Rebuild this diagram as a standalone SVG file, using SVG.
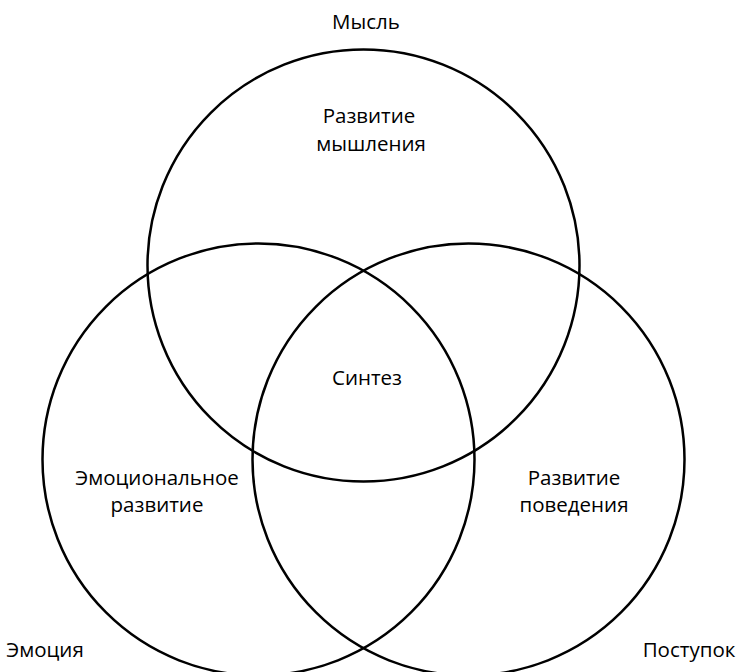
<svg xmlns="http://www.w3.org/2000/svg" width="740" height="672" viewBox="0 0 740 672">
<style>
.c{fill:none;stroke:#000;stroke-width:2.5}
.t{font-family:"Open Sans","Noto Sans","DejaVu Sans",sans-serif;font-size:20.5px;fill:#000;text-anchor:middle}
</style>
<rect width="740" height="672" fill="#fff"/>
<g id="circles">
<circle id="thought-circle" class="c" cx="363.5" cy="265.5" r="216"/>
<circle id="emotion-circle" class="c" cx="258.5" cy="459.5" r="216"/>
<circle id="action-circle" class="c" cx="468.5" cy="459.5" r="216"/>
</g>
<g id="thought"><text class="t" x="366" y="29">Мысль</text></g>
<g id="thought-dev"><text class="t" x="369" y="123">Развитие</text><text class="t" x="371" y="151">мышления</text></g>
<g id="synthesis"><text class="t" x="367" y="385">Синтез</text></g>
<g id="emotion-dev"><text class="t" x="157" y="485">Эмоциональное</text><text class="t" x="157" y="512">развитие</text></g>
<g id="action-dev"><text class="t" x="574" y="485">Развитие</text><text class="t" x="574" y="512">поведения</text></g>
<g id="emotion"><text class="t" x="45" y="657">Эмоция</text></g>
<g id="action"><text class="t" x="689" y="657">Поступок</text></g>
</svg>
